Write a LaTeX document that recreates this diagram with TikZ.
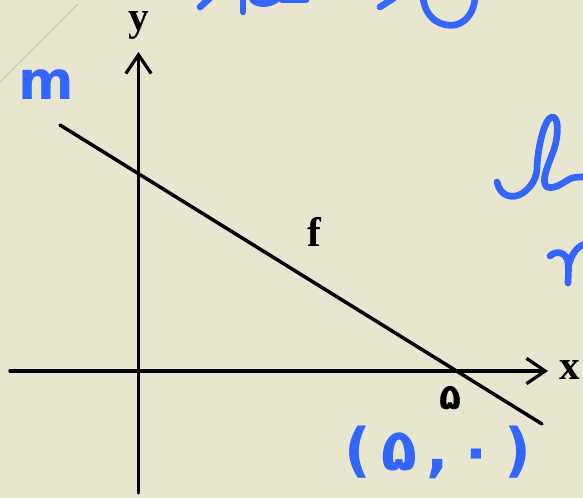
\documentclass[tikz,border=0pt]{standalone}
\usepackage{fontspec}
\setmainfont{Liberation Serif}
\newfontfamily\fa[Script=Arabic]{DejaVu Sans}
\newfontfamily\hand{DejaVu Sans}
\usetikzlibrary{arrows.meta}
\definecolor{bg}{RGB}{233,230,208}
\definecolor{ink}{RGB}{51,102,255}
\definecolor{faint}{RGB}{195,192,172}
\tikzset{
  axis/.style={line width=2.6pt, -{Straight Barb[length=14pt,width=19pt,line width=2.4pt]}},
  graphline/.style={line width=2.6pt, line cap=round},
  lbl/.style={inner sep=0pt, font=\fontsize{31}{31}\selectfont\bfseries},
  pen/.style={ink, line width=5pt, line cap=round, line join=round},
  pentext/.style={ink, inner sep=0pt}
}
\begin{document}
\begin{tikzpicture}[x=0.75pt,y=-0.75pt]
\fill[bg] (0,0) rectangle (583,498);
\useasboundingbox (0,0) rectangle (583,498);
% faint stray line
\coordinate (fa) at (0,82);
\coordinate (fb) at (78,4);
\draw[faint, line width=0.6pt] (fa) -- (fb);
% axes
\coordinate (xl) at (10,371);
\coordinate (xr) at (548,371);
\coordinate (yb) at (138.5,493);
\coordinate (yt) at (138.5,52);
\draw[axis, line cap=round] (xl) -- (xr);
\draw[axis, line cap=round] (yb) -- (yt);
% line m / f
\coordinate (ms) at (60,125);
\coordinate (me) at (542,424);
\draw[graphline] (ms) -- (me);
% labels
\node[lbl, anchor=base] (ylab) at (139,31) {y};
\node[lbl, anchor=base] (xlab) at (570,380) {x};
\node[lbl, anchor=base] (flab) at (314,247) {f};
\node[inner sep=0pt, anchor=base, font=\fontsize{27}{27}\selectfont\fa\bfseries] (five) at (450,410) {۵};
% handwriting text
\node[pentext, anchor=base, font=\fontsize{40}{40}\selectfont\hand\bfseries] (mlab) at (46,100) {m};
\node[pentext, anchor=center, font=\fontsize{44}{44}\selectfont\hand\bfseries] (pt) at (438,452) {(\,۵\,,\,۰\,)};
% partial handwriting at top edge
\draw[pen] (200,7) -- (210,-2);
\draw[pen] (243,-2) -- (243,12);
\draw[pen] (252,-2) .. controls (254,5) and (270,6) .. (278,-2);
\draw[pen] (282,0) -- (306,0);
\draw[pen] (380,7) -- (394,-2);
\draw[pen] (423,-2) .. controls (426,20) and (442,27) .. (455,25) .. controls (468,22) and (474,10) .. (475,-2);
% partial handwriting at right edge
\draw[pen] (497,182) .. controls (500,196) and (512,200) .. (523,193)
  .. controls (532,186) and (537,178) .. (537,167)
  .. controls (538,145) and (545,118) .. (552,117)
  .. controls (560,116) and (558,140) .. (553,152)
  .. controls (549,163) and (540,182) .. (547,187)
  .. controls (556,190) and (566,180) .. (572,178)
  .. controls (576,177) and (580,177) .. (585,177);
\draw[pen] (550,256) .. controls (556,250) and (566,252) .. (568,262)
  .. controls (569,270) and (568,278) .. (568,283);
\draw[pen] (568,268) .. controls (571,255) and (576,247) .. (585,244);
\end{tikzpicture}
\end{document}
